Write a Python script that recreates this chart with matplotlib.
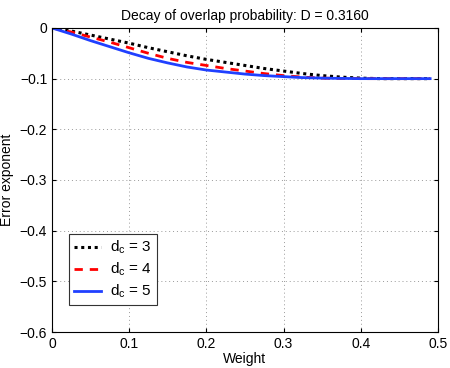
import matplotlib
matplotlib.use("Agg")
import matplotlib.pyplot as plt

plt.rcParams['font.family'] = ['Liberation Sans', 'DejaVu Sans']
plt.rcParams['mathtext.fontset'] = 'custom'
plt.rcParams['mathtext.rm'] = 'Liberation Sans'
plt.rcParams['mathtext.it'] = 'Liberation Sans'

weight = [0, 0.025, 0.05, 0.075, 0.1, 0.125, 0.15, 0.175, 0.2, 0.225, 0.25,
          0.275, 0.3, 0.325, 0.35, 0.375, 0.4, 0.425, 0.45, 0.49]
dc3 = [0, -0.006, -0.014, -0.022, -0.030, -0.039, -0.047, -0.055, -0.062, -0.068, -0.074,
       -0.080, -0.085, -0.090, -0.094, -0.097, -0.099, -0.1, -0.1, -0.1]
dc4 = [0, -0.008, -0.018, -0.028, -0.039, -0.050, -0.060, -0.068, -0.074, -0.080, -0.085,
       -0.090, -0.094, -0.097, -0.099, -0.0995, -0.1, -0.1, -0.1, -0.1]
dc5 = [0, -0.012, -0.025, -0.037, -0.049, -0.060, -0.069, -0.077, -0.083, -0.087, -0.091,
       -0.094, -0.096, -0.098, -0.099, -0.0995, -0.1, -0.1, -0.1, -0.1]
labels = ['$\\mathregular{d_c}$ = 3', '$\\mathregular{d_c}$ = 4', '$\\mathregular{d_c}$ = 5']

fig = plt.figure(figsize=(4.5, 3.68), dpi=100)
ax = fig.add_axes([0.1156, 0.0978, 0.8574, 0.8262])

ax.plot(weight, dc3, color='black', linestyle=(0, (1, 1.2)), linewidth=2.2, label=labels[0])
ax.plot(weight, dc4, color='red', linestyle=(0, (3, 2.5)), linewidth=2, label=labels[1])
ax.plot(weight, dc5, color='#2040ff', linestyle='-', linewidth=2, label=labels[2])

ax.set_xlim(0, 0.5)
ax.set_ylim(-0.6, 0)
ax.set_xticks([0, 0.1, 0.2, 0.3, 0.4, 0.5])
ax.set_xticklabels(['0', '0.1', '0.2', '0.3', '0.4', '0.5'])
ax.set_yticks([-0.6, -0.5, -0.4, -0.3, -0.2, -0.1, 0])
ax.set_yticklabels(['\u22120.6', '\u22120.5', '\u22120.4', '\u22120.3', '\u22120.2', '\u22120.1', '0'])
ax.tick_params(direction='in', top=True, right=True, labelsize=10, length=3)
ax.grid(True, linestyle=(0, (1, 3)), color='#999999', linewidth=0.7)
for s in ax.spines.values():
    s.set_linewidth(0.8)

ax.set_xlabel('Weight', fontsize=10, labelpad=1)
ax.set_ylabel('Error exponent', fontsize=10)
ax.set_title('Decay of overlap probability: D = 0.3160', fontsize=10)

leg = ax.legend(loc='lower left', bbox_to_anchor=(0.044, 0.089), fontsize=11,
                fancybox=False, edgecolor='#333333', framealpha=1,
                handlelength=1.8, handletextpad=0.6, borderaxespad=0,
                borderpad=0.3, labelspacing=0.3)
leg.get_frame().set_linewidth(0.8)

fig.savefig('out.png', dpi=100)
